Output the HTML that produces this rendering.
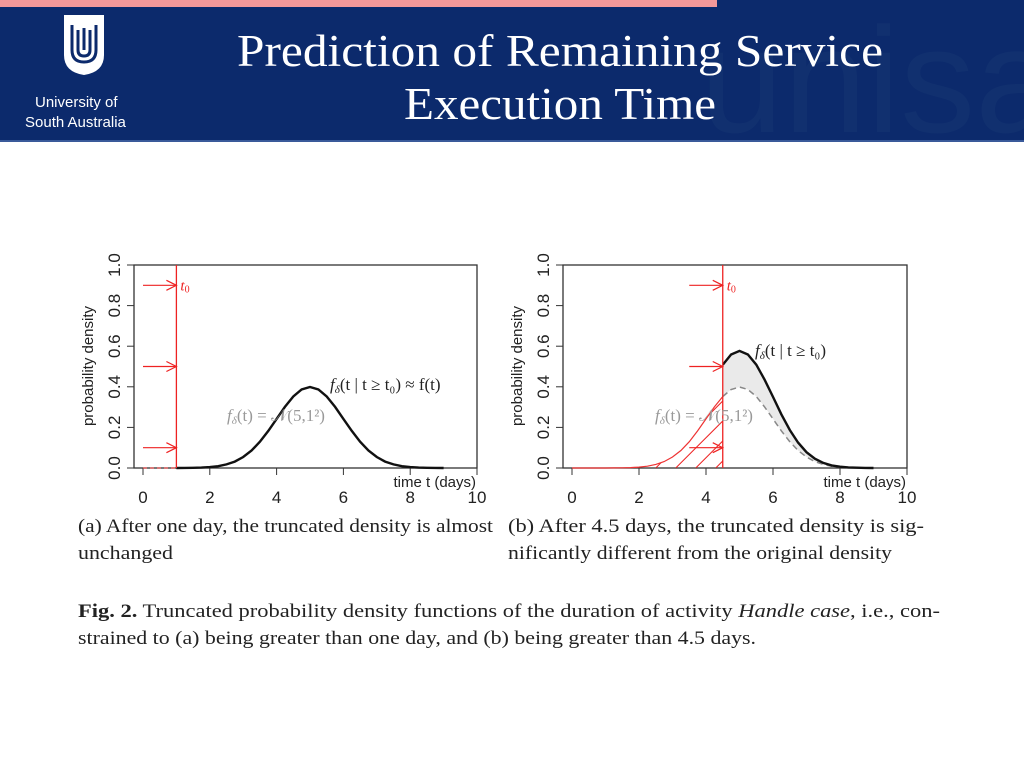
<!DOCTYPE html>
<html><head><meta charset="utf-8"><style>
html,body{margin:0;padding:0;background:#fff;}
svg{display:block;}
</style></head><body>
<svg id="root" width="1024" height="768" viewBox="0 0 1024 768" xmlns="http://www.w3.org/2000/svg">
<g>
  <rect x="0" y="0" width="1024" height="142" fill="#0c2a6c"/>
  <rect x="0" y="0" width="717" height="7" fill="#f4999a"/>
  <text x="700" y="132" font-family="Liberation Sans, sans-serif" font-size="150" fill="#11306f">unisa</text>
  <rect x="0" y="140" width="1024" height="2" fill="#3a5a9a"/>
  <g>
    <path d="M64 15 H104 V55 Q104 72 84 75 Q64 72 64 55 Z" fill="#fff"/>
    <path d="M72 25 V50 Q72 62 84 62 Q96 62 96 50 V25 M78 30 V50 Q78 56 84 56 Q90 56 90 50 V30 M84 28 V50" stroke="#0c2a6c" stroke-width="3" fill="none"/>
    <text x="35" y="107" font-family="Liberation Sans, sans-serif" font-size="15" fill="#fff">University of</text>
    <text x="25" y="127" font-family="Liberation Sans, sans-serif" font-size="15" fill="#fff">South Australia</text>
  </g>
  <text x="560" y="66" text-anchor="middle" font-family="Liberation Serif, serif" font-size="45" fill="#fff" textLength="646" lengthAdjust="spacingAndGlyphs">Prediction of Remaining Service</text>
  <text x="560" y="119" text-anchor="middle" font-family="Liberation Serif, serif" font-size="45" fill="#fff" textLength="312" lengthAdjust="spacingAndGlyphs">Execution Time</text>
</g>
<g id="chartA"></g>
<g id="chartB"></g>
<g font-family="Liberation Serif, serif" font-size="19" fill="#222">
  <text x="78" y="532" textLength="415" lengthAdjust="spacingAndGlyphs">(a) After one day, the truncated density is almost</text>
  <text x="78" y="559" textLength="95" lengthAdjust="spacingAndGlyphs">unchanged</text>
  <text x="508" y="532" textLength="416" lengthAdjust="spacingAndGlyphs">(b) After 4.5 days, the truncated density is sig-</text>
  <text x="508" y="559" textLength="384" lengthAdjust="spacingAndGlyphs">nificantly different from the original density</text>
  <text x="78" y="617" textLength="862" lengthAdjust="spacingAndGlyphs"><tspan font-weight="bold">Fig. 2.</tspan> Truncated probability density functions of the duration of activity <tspan font-style="italic">Handle case</tspan>, i.e., con-</text>
  <text x="78" y="644" textLength="678" lengthAdjust="spacingAndGlyphs">strained to (a) being greater than one day, and (b) being greater than 4.5 days.</text>
</g>
</svg>
<script>
// Data
const tValues = [1,1.25,1.5,1.75,2,2.25,2.5,2.75,3,3.25,3.5,3.75,4,4.25,4.5,4.75,5,5.25,5.5,5.75,6,6.25,6.5,6.75,7,7.25,7.5,7.75,8,8.25,8.5,8.75,9];
const normalDensity = [0.0001,0.0004,0.0009,0.0020,0.0044,0.0091,0.0175,0.0317,0.0540,0.0863,0.1295,0.1826,0.2420,0.3011,0.3521,0.3867,0.3989,0.3867,0.3521,0.3011,0.2420,0.1826,0.1295,0.0863,0.0540,0.0317,0.0175,0.0091,0.0044,0.0020,0.0009,0.0004,0.0001];
const truncDensityB = [0,0,0,0,0,0,0,0,0,0,0,0,0,0,0.509,0.559,0.577,0.559,0.509,0.435,0.350,0.264,0.187,0.125,0.078,0.046,0.025,0.013,0.0064,0.0029,0.0013,0.0006,0.0001];
const xTicks = [0,2,4,6,8,10];
const yTicks = [0,0.2,0.4,0.6,0.8,1.0];
const yTickLabels = ["0.0","0.2","0.4","0.6","0.8","1.0"];
const arrowLevelsA = [0.9,0.5,0.1];
const arrowLevelsB = [0.9,0.5,0.1];
const t0A = 1, t0B = 4.5;

const NS = "http://www.w3.org/2000/svg";
function mk(parent, tag, attrs, text){
  const el = document.createElementNS(NS, tag);
  for (const k in attrs) el.setAttribute(k, attrs[k]);
  if (text !== undefined) el.textContent = text;
  parent.appendChild(el);
  return el;
}

function drawChart(g, cfg){
  const sx = v => cfg.x0 + (cfg.x10 - cfg.x0) * v / 10;
  const sy = v => 468 - 203 * v;
  const font = "Liberation Sans, sans-serif";
  const box = mk(g,'rect',{x:cfg.boxL,y:265,width:cfg.x10-cfg.boxL,height:203,fill:'none',stroke:'#333','stroke-width':1.3});
  
  
  xTicks.forEach(v=>{
    const tk = mk(g,'line',{x1:sx(v),x2:sx(v),y1:468,y2:475,stroke:'#333'});
    
    
    const lb = mk(g,'text',{x:sx(v),y:503,'text-anchor':'middle','font-family':font,'font-size':17,fill:'#222'},String(v));
    
    
  });
  yTicks.forEach((v,i)=>{
    const tk = mk(g,'line',{x1:cfg.boxL-7,x2:cfg.boxL,y1:sy(v),y2:sy(v),stroke:'#333'});
    
    
    const lx = cfg.boxL-14;
    const lb = mk(g,'text',{x:lx,y:sy(v),'text-anchor':'middle','font-family':font,'font-size':17,fill:'#222',transform:`rotate(-90 ${lx} ${sy(v)})`},yTickLabels[i]);
    
    
  });
  const yl = cfg.boxL-41;
  const ylab = mk(g,'text',{x:yl,y:366,'text-anchor':'middle','font-family':font,'font-size':15,fill:'#222',transform:`rotate(-90 ${yl} 366)`},'probability density');
  
  
  const xlab = mk(g,'text',{x:cfg.x10-1,y:487,'text-anchor':'end','font-family':font,'font-size':15,fill:'#222'},'time t (days)');
  
  

  const pts = (arr, from) => tValues.map((t,i)=>[t,arr[i]]).filter(p=>p[0]>=from);
  const path = p => p.map((q,i)=>(i?'L':'M')+sx(q[0]).toFixed(1)+' '+sy(q[1]).toFixed(1)).join(' ');

  if (cfg.mode==='a'){
    const base = mk(g,'line',{x1:sx(0),x2:sx(t0A),y1:468,y2:468,stroke:'#e33','stroke-dasharray':'4 3'});
    
    
    const c = mk(g,'path',{d:path(pts(normalDensity,t0A)),fill:'none',stroke:'#111','stroke-width':2.4});
    
    
  } else {
    const left = pts(normalDensity,0).filter(p=>p[0]<=t0B);
    const clipId='clipB';
    const defs = mk(g,'defs',{});
    const cp = mk(defs,'clipPath',{id:clipId});
    mk(cp,'path',{d:'M'+sx(0)+' 468 '+path(left).replace('M','L')+' L'+sx(t0B)+' 468 Z'});
    const hatch = mk(g,'g',{'clip-path':`url(#${clipId})`});
    
    
    for (let k=-4;k<8;k++){
      const xs = sx(2.5)+k*20;
      mk(hatch,'line',{x1:xs,y1:468,x2:xs+120,y2:348,stroke:'#e22','stroke-width':1});
    }
    const lc = mk(g,'path',{d:'M'+sx(0)+' 468 '+path(left).replace('M','L'),fill:'none',stroke:'#e33','stroke-width':1.2});
    
    
    const right = pts(normalDensity,t0B), tr = pts(truncDensityB,t0B);
    const fillD = path(tr)+' '+right.slice().reverse().map(q=>'L'+sx(q[0]).toFixed(1)+' '+sy(q[1]).toFixed(1)).join(' ')+' Z';
    const f = mk(g,'path',{d:fillD,fill:'#eaeaea',stroke:'none'});
    
    
    const dc = mk(g,'path',{d:path(right),fill:'none',stroke:'#888','stroke-width':1.5,'stroke-dasharray':'6 4'});
    
    
    const c = mk(g,'path',{d:path(tr),fill:'none',stroke:'#111','stroke-width':2.4});
    
    
  }
  const t0 = cfg.t0;
  const vl = mk(g,'line',{x1:sx(t0),x2:sx(t0),y1:265,y2:468,stroke:'#e22','stroke-width':1.3});
  
  
  cfg.arrows.forEach(v=>{
    const ag = mk(g,'g',{stroke:'#e22','stroke-width':1.2,fill:'none'});
    
    
    const xs = cfg.mode==='a'?sx(0):sx(t0-1);
    mk(ag,'line',{x1:xs,x2:sx(t0),y1:sy(v),y2:sy(v)});
    mk(ag,'path',{d:`M${sx(t0)-10} ${sy(v)-5} L${sx(t0)} ${sy(v)} L${sx(t0)-10} ${sy(v)+5}`});
  });
  const tl = mk(g,'text',{x:sx(t0)+4,y:sy(0.9)+5,'font-family':'Liberation Serif, serif','font-size':15,'font-style':'italic',fill:'#e22'},'t');
  mk(tl,'tspan',{'font-size':10,'font-style':'normal',dy:2},'0');
  
  
  const gl = mk(g,'text',{x:cfg.glx,y:421,'font-family':'Liberation Serif, serif','font-size':17,fill:'#999','font-style':'italic'},'f');
  mk(gl,'tspan',{'font-size':11,dy:3},'δ');
  mk(gl,'tspan',{dy:-3,'font-style':'normal'},'(t) = 𝒩(5,1²)');
  
  
  const bl = mk(g,'text',{x:cfg.blx,y:cfg.bly,'font-family':'Liberation Serif, serif','font-size':17,fill:'#222','font-style':'italic'},'f');
  mk(bl,'tspan',{'font-size':11,dy:3},'δ');
  mk(bl,'tspan',{dy:-3,'font-style':'normal'},cfg.btext);
  
  
}
drawChart(document.getElementById('chartA'),{mode:'a',boxL:134,x0:143,x10:477,t0:t0A,arrows:arrowLevelsA,glx:227,blx:330,bly:390,btext:'(t | t ≥ t₀) ≈ f(t)'});
drawChart(document.getElementById('chartB'),{mode:'b',boxL:563,x0:572,x10:907,t0:t0B,arrows:arrowLevelsB,glx:655,blx:755,bly:356,btext:'(t | t ≥ t₀)'});
</script>
</body></html>
